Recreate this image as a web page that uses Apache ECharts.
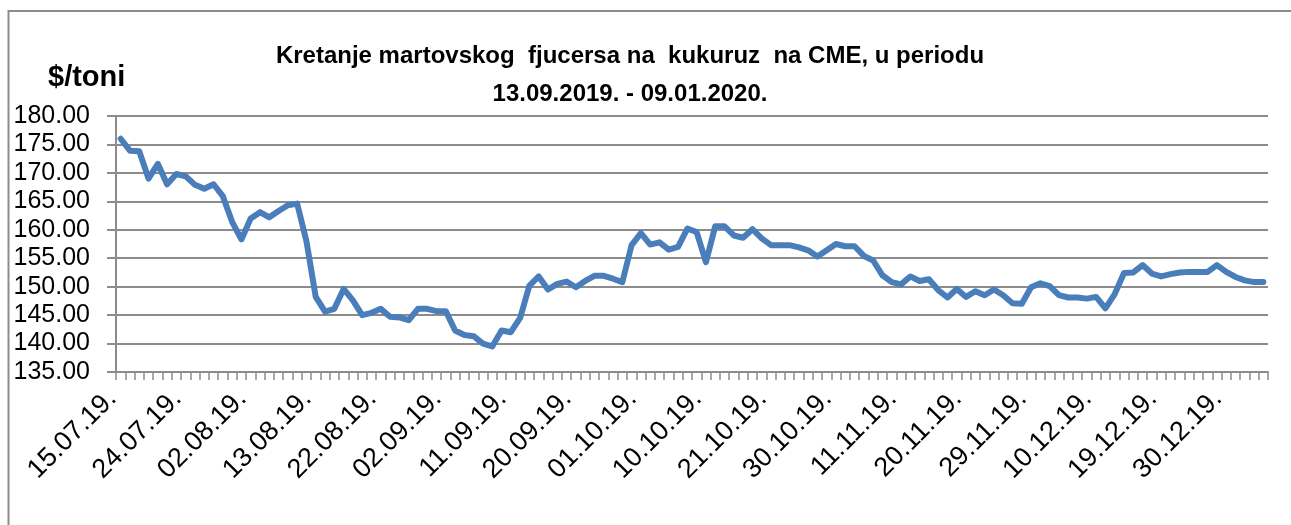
<!DOCTYPE html>
<html>
<head>
<meta charset="utf-8">
<script src="https://cdn.jsdelivr.net/npm/echarts@6/dist/echarts.min.js"></script>
<style>
  html, body { margin: 0; padding: 0; background: #fff; }
  #chart { width: 1291px; height: 525px; }
</style>
</head>
<body>
<div id="chart"></div>
<script>
  // shown date labels, one every 7 points
  const tickLabels = ['15.07.19.', '24.07.19.', '02.08.19.', '13.08.19.', '22.08.19.', '02.09.19.',
    '11.09.19.', '20.09.19.', '01.10.19.', '10.10.19.', '21.10.19.', '30.10.19.',
    '11.11.19.', '20.11.19.', '29.11.19.', '10.12.19.', '19.12.19.', '30.12.19.'];

  // $/toni
  const prices = [
    176.0, 173.9, 173.8, 169.0, 171.6, 168.0, 169.8, 169.4, 167.9, 167.2,
    168.0, 165.9, 161.4, 158.3, 162.0, 163.1, 162.2, 163.3, 164.3, 164.6,
    158.0, 148.2, 145.6, 146.1, 149.6, 147.6, 145.0, 145.4, 146.1, 144.7,
    144.6, 144.1, 146.1, 146.1, 145.7, 145.7, 142.3, 141.5, 141.3, 140.0,
    139.5, 142.3, 142.0, 144.5, 150.2, 151.8, 149.5, 150.5, 150.9, 149.9,
    151.0, 151.9, 151.9, 151.4, 150.8, 157.3, 159.4, 157.4, 157.8, 156.5,
    157.0, 160.2, 159.6, 154.3, 160.6, 160.6, 159.0, 158.6, 160.1, 158.5,
    157.3, 157.3, 157.3, 156.9, 156.4, 155.3, 156.4, 157.5, 157.1, 157.1,
    155.4, 154.6, 152.0, 150.8, 150.4, 151.8, 151.0, 151.3, 149.4, 148.1,
    149.6, 148.2, 149.2, 148.5, 149.5, 148.5, 147.1, 147.0, 149.9, 150.6,
    150.1, 148.5, 148.1, 148.1, 147.9, 148.2, 146.2, 148.7, 152.4, 152.5,
    153.8, 152.3, 151.8, 152.2, 152.5, 152.6, 152.6, 152.6, 153.8, 152.6,
    151.7, 151.1, 150.8, 150.8
  ];

  const categories = prices.map((v, i) => i % 7 === 0 ? tickLabels[i / 7] : String(i));

  let chart = echarts.init(document.getElementById('chart'));
  chart.setOption({
    animation: false,
    backgroundColor: '#fff',
    title: [
      {
        text: 'Kretanje martovskog  fjucersa na  kukuruz  na CME, u periodu\n13.09.2019. - 09.01.2020.',
        left: 625,
        top: 32,
        textAlign: 'center',
        textStyle: {
          fontFamily: 'Liberation Sans',
          fontWeight: 'bold',
          fontSize: 24,
          lineHeight: 38,
          color: '#000'
        }
      },
      {
        text: '$/toni',
        left: 43,
        top: 58,
        textStyle: {
          fontFamily: 'Liberation Sans',
          fontWeight: 'bold',
          fontSize: 29,
          color: '#000'
        }
      }
    ],
    graphic: [
      {
        type: 'polyline',
        shape: { points: [[8.5, 525], [8.5, 11], [1291, 11]] },
        style: { stroke: '#8c8c8c', lineWidth: 2, fill: null },
        silent: true
      }
    ],
    grid: {
      left: 116,
      right: 23,
      top: 116,
      bottom: 153
    },
    xAxis: {
      type: 'category',
      data: categories,
      boundaryGap: true,
      axisLine: { lineStyle: { color: '#8c8c8c', width: 2 } },
      axisTick: { show: true, interval: 0, length: 8, lineStyle: { color: '#8c8c8c', width: 1.5 } },
      axisLabel: {
        interval: 6,
        rotate: 45,
        margin: 14,
        padding: [0, 12, 0, 0],
        fontFamily: 'Liberation Sans',
        fontSize: 27,
        color: '#000'
      },
      splitLine: { show: false }
    },
    yAxis: {
      type: 'value',
      min: 135,
      max: 180,
      interval: 5,
      axisLine: { show: true, lineStyle: { color: '#8c8c8c', width: 2 } },
      axisTick: { show: true, length: 9, lineStyle: { color: '#8c8c8c', width: 2 } },
      axisLabel: {
        margin: 26,
        fontFamily: 'Liberation Sans',
        fontSize: 25,
        color: '#000',
        formatter: v => v.toFixed(2)
      },
      splitLine: { lineStyle: { color: '#8c8c8c', width: 2 } }
    },
    series: [
      {
        type: 'line',
        data: prices,
        showSymbol: false,
        symbol: 'none',
        lineStyle: { color: '#4a7ebb', width: 6, join: 'round', cap: 'round' },
        itemStyle: { color: '#4a7ebb' }
      }
    ]
  });
</script>
</body>
</html>
